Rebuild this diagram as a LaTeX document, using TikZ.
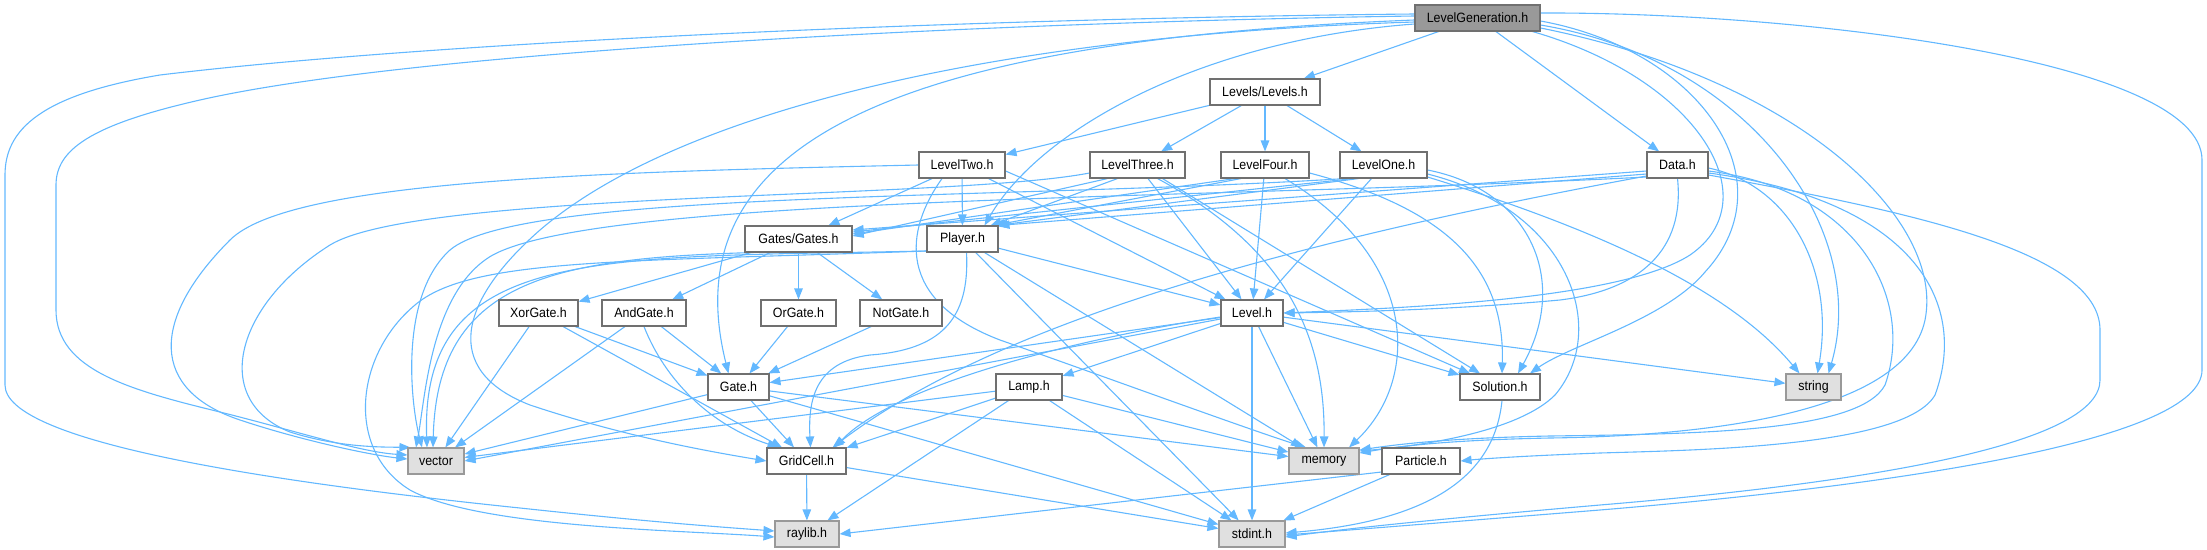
\documentclass[tikz,border=0pt]{standalone}
\usepackage{fontspec}
\setmainfont{Liberation Sans}[FakeStretch=0.92]
\usetikzlibrary{arrows.meta}
\definecolor{edgec}{HTML}{63B8FF}
\definecolor{boxc}{HTML}{707070}
\definecolor{sysc}{HTML}{999999}
\definecolor{sysfill}{HTML}{E0E0E0}
\definecolor{rootfill}{HTML}{999999}
\pgfdeclarelayer{edges}
\pgfsetlayers{edges,main}
\begin{document}
\begin{tikzpicture}[x=1pt,y=-1pt,
  file/.style={draw=boxc,line width=1.1pt,fill=white,minimum height=26pt,inner sep=0pt,font=\fontsize{13.5}{16}\selectfont,text=black},
  sys/.style={file,draw=sysc,fill=sysfill},
  root/.style={file,fill=rootfill},
  dep/.style={draw=edgec,line width=1.1pt,-{Triangle[length=11pt,width=8.5pt]}}]
\useasboundingbox (0,0) rectangle (2207,549);
% nodes
\node[root,minimum width=125pt] (LG) at (1477.5,18) {LevelGeneration.h};
\node[file,minimum width=110pt] (Levels) at (1265,92) {Levels/Levels.h};
\node[file,minimum width=86pt] (LevelTwo) at (962,165) {LevelTwo.h};
\node[file,minimum width=95pt] (LevelThree) at (1137.5,165) {LevelThree.h};
\node[file,minimum width=88pt] (LevelFour) at (1265,165) {LevelFour.h};
\node[file,minimum width=87pt] (LevelOne) at (1383.5,165) {LevelOne.h};
\node[file,minimum width=61pt] (Data) at (1677.5,165) {Data.h};
\node[file,minimum width=107pt] (Gates) at (798.5,239) {Gates/Gates.h};
\node[file,minimum width=71pt] (Player) at (962.5,239) {Player.h};
\node[file,minimum width=79pt] (XorGate) at (538.5,313) {XorGate.h};
\node[file,minimum width=84pt] (AndGate) at (644,313) {AndGate.h};
\node[file,minimum width=75pt] (OrGate) at (798.5,313) {OrGate.h};
\node[file,minimum width=82pt] (NotGate) at (901,313) {NotGate.h};
\node[file,minimum width=62pt] (Level) at (1252,313) {Level.h};
\node[file,minimum width=61pt] (Gate) at (738.5,387) {Gate.h};
\node[file,minimum width=66pt] (Lamp) at (1029,387) {Lamp.h};
\node[file,minimum width=80pt] (Solution) at (1500,387) {Solution.h};
\node[sys,minimum width=55pt] (string) at (1813.5,387) {string};
\node[sys,minimum width=56pt] (vector) at (436,461) {vector};
\node[file,minimum width=79pt] (GridCell) at (806.5,461) {GridCell.h};
\node[sys,minimum width=70pt] (memory) at (1324,461) {memory};
\node[file,minimum width=78pt] (Particle) at (1421,461) {Particle.h};
\node[sys,minimum width=64pt] (raylib) at (807,534) {raylib.h};
\node[sys,minimum width=66pt] (stdint) at (1252,534) {stdint.h};
\begin{pgfonlayer}{edges}
% LevelGeneration.h
\draw[dep] (LG) -- (Levels);
\draw[dep] (LG) -- (Data);
\draw[dep] ([yshift=-6pt]LG.west) .. controls (1200,40) and (1040,130) .. ([xshift=22pt]Player.north);
\draw[dep] ([yshift=-2pt]LG.west) .. controls (900,40) and (670,140) .. ([xshift=-10pt]Gate.north);
\draw[dep] ([yshift=-4pt]LG.west) .. controls (1000,35) and (680,110) .. (540,230) .. controls (460,300) and (440,370) .. (530,405) .. controls (620,435) and (700,450) .. (GridCell.west);
\draw[dep] ([yshift=4pt]LG.west) .. controls (1000,18) and (450,40) .. (160,75) .. controls (40,95) and (5,130) .. (5,175) -- (5,385) .. controls (5,440) and (250,480) .. (520,508) .. controls (650,522) and (720,527) .. ([yshift=3pt]raylib.west);
\draw[dep] ([yshift=2pt]LG.west) .. controls (1000,22) and (420,50) .. (200,100) .. controls (90,125) and (56,150) .. (56,185) -- (56,310) .. controls (56,370) and (130,390) .. (220,412) .. controls (300,432) and (360,452) .. ([yshift=6pt]vector.west);
\draw[dep] ([xshift=-8pt]LG.south east) .. controls (1700,80) and (1770,200) .. (1690,255) .. controls (1620,300) and (1400,308) .. (Level.east);
\draw[dep] ([yshift=-3pt]LG.east) .. controls (1700,50) and (1790,180) .. (1705,272) .. controls (1665,320) and (1570,345) .. ([xshift=30pt]Solution.north);
\draw[dep] ([yshift=-7pt]LG.east) .. controls (1750,60) and (1870,230) .. ([xshift=15pt]string.north);
\draw[dep] ([yshift=-10pt]LG.east) .. controls (1800,80) and (1945,220) .. (1925,320) .. controls (1905,415) and (1700,436) .. (1550,438) .. controls (1450,440) and (1400,446) .. ([yshift=8pt]memory.east);
\draw[dep] ([yshift=5pt]LG.east) .. controls (1800,12) and (2202,60) .. (2202,160) -- (2202,370) .. controls (2202,440) and (1900,485) .. (1600,510) .. controls (1450,522) and (1350,530) .. ([yshift=-1pt]stdint.east);
% Levels/Levels.h
\draw[dep] (Levels) -- (LevelTwo);
\draw[dep] (Levels) -- (LevelThree);
\draw[dep] (Levels) -- (LevelFour);
\draw[dep] (Levels) -- (LevelOne);
% LevelTwo.h
\draw[dep] (LevelTwo) -- (Gates);
\draw[dep] (LevelTwo) -- (Player);
\draw[dep] (LevelTwo) -- (Level);
\draw[dep] ([yshift=-6pt]LevelTwo.east) -- ([xshift=-30pt]Solution.north);
\draw[dep] ([xshift=-20pt]LevelTwo.south) .. controls (905,230) and (895,300) .. (1000,340) .. controls (1100,375) and (1250,430) .. ([xshift=-18pt]memory.north);
\draw[dep] (LevelTwo.west) .. controls (600,172) and (290,180) .. (230,240) .. controls (150,320) and (150,390) .. (240,420) .. controls (300,440) and (370,455) .. ([yshift=2pt]vector.west);
% LevelThree.h
\draw[dep] ([xshift=-30pt]LevelThree.south) -- ([yshift=3pt]Gates.east);
\draw[dep] ([xshift=-20pt]LevelThree.south) -- ([xshift=-8pt]Player.north east);
\draw[dep] (LevelThree) -- (Level);
\draw[dep] ([xshift=25pt]LevelThree.south) -- ([xshift=-20pt]Solution.north);
\draw[dep] ([xshift=20pt]LevelThree.south) .. controls (1290,250) and (1325,340) .. (memory.north);
\draw[dep] ([yshift=-8pt]LevelThree.west) .. controls (950,200) and (420,190) .. (330,245) .. controls (235,305) and (210,400) .. (290,432) .. controls (340,448) and (385,447) .. ([xshift=3pt]vector.north west);
% LevelFour.h
\draw[dep] ([xshift=-30pt]LevelFour.south) -- ([yshift=5pt]Gates.east);
\draw[dep] ([xshift=-24pt]LevelFour.south) -- ([xshift=-5pt]Player.north east);
\draw[dep] (LevelFour) -- (Level);
\draw[dep] ([yshift=-8pt]LevelFour.east) .. controls (1450,210) and (1505,270) .. ([xshift=2pt]Solution.north);
\draw[dep] ([xshift=20pt]LevelFour.south) .. controls (1420,260) and (1420,380) .. ([xshift=25pt]memory.north);
% LevelOne.h
\draw[dep] ([xshift=-30pt]LevelOne.south) -- ([yshift=7pt]Gates.east);
\draw[dep] ([xshift=-25pt]LevelOne.south) -- ([xshift=-2pt]Player.north east);
\draw[dep] (LevelOne) -- (Level);
\draw[dep] ([yshift=-5pt]LevelOne.east) .. controls (1530,190) and (1570,280) .. ([xshift=18pt]Solution.north);
\draw[dep] ([yshift=-9pt]LevelOne.east) .. controls (1570,210) and (1610,330) .. (1555,395) .. controls (1520,430) and (1430,445) .. ([yshift=10pt]memory.east);
\draw[dep] ([yshift=-12pt]LevelOne.east) .. controls (1600,230) and (1730,290) .. ([xshift=-14pt]string.north);
\draw[dep] ([xshift=-38pt]LevelOne.south) .. controls (1000,200) and (520,190) .. (450,250) .. controls (400,295) and (410,400) .. ([xshift=-14pt]vector.north);
% Data.h
\draw[dep] ([yshift=-6pt]Data.west) -- ([yshift=9pt]Gates.east);
\draw[dep] ([yshift=-9pt]Data.west) -- (Player.north east);
\draw[dep] (Data.south) .. controls (1685,250) and (1640,290) .. (1560,300) .. controls (1450,310) and (1350,312) .. (Level.east);
\draw[dep] ([yshift=-11pt]Data.west) .. controls (1300,240) and (1000,320) .. ([xshift=-14pt]GridCell.north east);
\draw[dep] ([yshift=-3pt]Data.east) .. controls (1790,185) and (1835,270) .. ([xshift=4pt]string.north);
\draw[dep] ([yshift=-6pt]Data.east) .. controls (1860,190) and (1915,300) .. (1885,385) .. controls (1860,432) and (1700,434) .. (1550,436) .. controls (1450,438) and (1400,444) .. ([yshift=11pt]memory.east);
\draw[dep] ([yshift=-8pt]Data.east) .. controls (1910,200) and (1970,300) .. (1935,395) .. controls (1905,447) and (1700,450) .. (1600,453) .. controls (1520,456) and (1480,459) .. (Particle.east);
\draw[dep] ([yshift=-10pt]Data.east) .. controls (1900,210) and (2100,250) .. (2100,330) -- (2100,380) .. controls (2100,440) and (1900,480) .. (1600,505) .. controls (1450,518) and (1350,528) .. ([yshift=-3pt]stdint.east);
\draw[dep] ([yshift=-12pt]Data.west) .. controls (1200,200) and (570,195) .. (485,260) .. controls (430,300) and (425,400) .. ([xshift=-20pt]vector.north);
% Player.h
\draw[dep] (Player) -- (Level);
\draw[dep] (Player) -- (memory);
\draw[dep] (Player) -- (stdint);
\draw[dep] ([xshift=4pt]Player.south) .. controls (970,320) and (940,350) .. (870,355) .. controls (815,362) and (808,400) .. ([xshift=4pt]GridCell.north);
\draw[dep] ([yshift=-12pt]Player.west) .. controls (600,258) and (420,245) .. ([xshift=-9pt]vector.north);
\draw[dep] ([yshift=-12pt]Player.west) .. controls (620,262) and (470,258) .. (415,305) .. controls (355,355) and (345,450) .. (410,490) .. controls (480,528) and (680,530) .. ([yshift=-3pt]raylib.west);
% Gates/Gates.h
\draw[dep] ([xshift=-45pt]Gates.south) .. controls (550,258) and (437,282) .. ([xshift=-3pt]vector.north);
\draw[dep] (Gates) -- (XorGate);
\draw[dep] (Gates) -- (AndGate);
\draw[dep] (Gates) -- (OrGate);
\draw[dep] (Gates) -- (NotGate);
% gate headers
\draw[dep] (XorGate) -- (vector);
\draw[dep] (XorGate) -- (Gate);
\draw[dep] (XorGate) -- (GridCell);
\draw[dep] (AndGate) -- (vector);
\draw[dep] (AndGate) -- (Gate);
\draw[dep] (AndGate.south) .. controls (665,380) and (710,425) .. ([xshift=-28pt]GridCell.north);
\draw[dep] (OrGate) -- (Gate);
\draw[dep] (NotGate) -- (Gate);
% Level.h
\draw[dep] ([yshift=-6pt]Level.west) -- (vector.east);
\draw[dep] (Level) -- (Gate);
\draw[dep] ([yshift=-4pt]Level.west) .. controls (1100,335) and (900,380) .. ([xshift=-12pt]GridCell.north east);
\draw[dep] (Level) -- (Lamp);
\draw[dep] (Level) -- (Solution);
\draw[dep] (Level) -- (memory);
\draw[dep] (Level) -- (stdint);
\draw[dep] (Level) -- (string);
% Gate.h
\draw[dep] (Gate) -- (vector);
\draw[dep] (Gate) -- (GridCell);
\draw[dep] (Gate) -- (memory);
\draw[dep] (Gate) -- (stdint);
% Lamp.h
\draw[dep] (Lamp) -- (vector);
\draw[dep] (Lamp) -- (GridCell);
\draw[dep] (Lamp) -- (raylib);
\draw[dep] (Lamp) -- (memory);
\draw[dep] (Lamp) -- (stdint);
% others
\draw[dep] (GridCell) -- (raylib);
\draw[dep] (GridCell) -- (stdint);
\draw[dep] ([yshift=-11pt]Particle.west) -- (raylib.east);
\draw[dep] (Particle) -- (stdint);
\draw[dep] ([xshift=2pt]Solution.south) .. controls (1495,470) and (1440,520) .. ([yshift=1pt]stdint.east);
\end{pgfonlayer}
\end{tikzpicture}
\end{document}
